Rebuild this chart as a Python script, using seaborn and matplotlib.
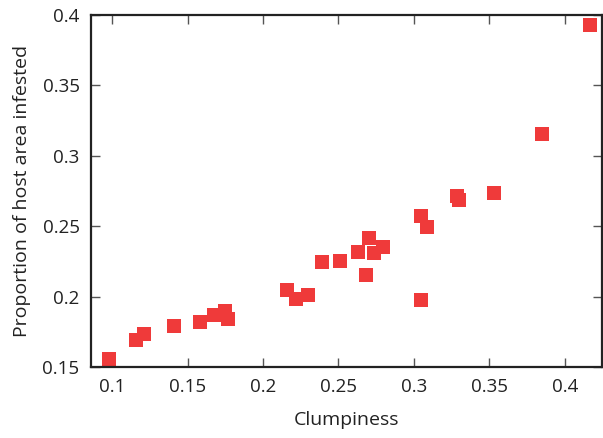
import pandas as pd
import matplotlib.pyplot as plt
import seaborn as sns

# Clumpiness vs proportion of host area infested

clumpiness = [0.098, 0.116, 0.121, 0.141, 0.158, 0.1675, 0.1746, 0.1768,
              0.216, 0.222, 0.230, 0.239, 0.2507, 0.263, 0.270, 0.2736,
              0.2795, 0.2682, 0.3048, 0.3085, 0.3046, 0.3289, 0.3302,
              0.353, 0.385, 0.4167]
infested = [0.1555, 0.169, 0.1735, 0.179, 0.182, 0.187, 0.1899, 0.1844,
            0.2046, 0.198, 0.2013, 0.2248, 0.2255, 0.2317, 0.2419, 0.2307,
            0.2355, 0.2155, 0.257, 0.2495, 0.1977, 0.2713, 0.2687,
            0.2737, 0.3155, 0.3927]

x_ticks = [0.1, 0.15, 0.2, 0.25, 0.3, 0.35, 0.4]
y_ticks = [0.15, 0.2, 0.25, 0.3, 0.35, 0.4]
x_tick_labels = ['0.1', '0.15', '0.2', '0.25', '0.3', '0.35', '0.4']
y_tick_labels = ['0.15', '0.2', '0.25', '0.3', '0.35', '0.4']

df = pd.DataFrame({'Clumpiness': clumpiness, 'Infested': infested})

sns.set_style('ticks')
plt.rcParams['font.family'] = ['Open Sans', 'DejaVu Sans']

fig = plt.figure(figsize=(6.03, 4.38), dpi=100)
ax = fig.add_axes([0.1504, 0.162, 0.8486, 0.804])

sns.scatterplot(data=df, x='Clumpiness', y='Infested', ax=ax,
                marker='s', s=105, color='#ef3a3a', linewidth=0)

ax.set_xlim(0.0857, 0.425)
ax.set_ylim(0.15, 0.4)
ax.set_xticks(x_ticks)
ax.set_xticklabels(x_tick_labels)
ax.set_yticks(y_ticks)
ax.set_yticklabels(y_tick_labels)

for side in ['left', 'right', 'top', 'bottom']:
    ax.spines[side].set_visible(True)
    ax.spines[side].set_linewidth(1.6)
    ax.spines[side].set_color('#222222')

ax.tick_params(direction='in', length=6.5, width=1, color='#555555',
               top=True, right=True, labelsize=13.5, labelcolor='#222222')
ax.tick_params(axis='y', pad=8)
ax.tick_params(axis='x', pad=8)

ax.set_xlabel('Clumpiness', fontsize=14, color='#222222', labelpad=11)
ax.set_ylabel('Proportion of host area infested', fontsize=14, color='#222222', labelpad=8)

plt.savefig('out.png', dpi=100)
